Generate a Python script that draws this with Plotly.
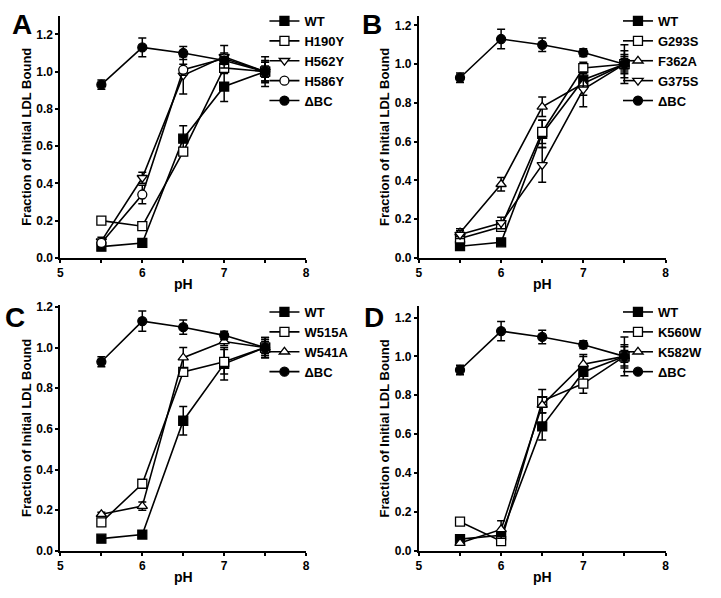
import plotly.graph_objects as go

ph = [5.5, 6.0, 6.5, 7.0, 7.5]

wt = [0.06, 0.08, 0.64, 0.92, 1.00]
wt_err = [0.01, 0.01, 0.07, 0.08, 0.05]
dbc = [0.93, 1.13, 1.10, 1.06, 1.00]
dbc_err = [0.025, 0.05, 0.035, 0.02, 0.03]

# Panel A
h190y = [0.20, 0.17, 0.57, 1.02, 1.00]
h190y_err = [0.01, 0.01, 0.02, 0.03, 0.06]
h562y = [0.09, 0.43, 0.98, 1.08, 1.00]
h562y_err = [0.02, 0.03, 0.10, 0.06, 0.08]
h586y = [0.08, 0.34, 1.01, 1.07, 1.00]
h586y_err = [0.01, 0.05, 0.03, 0.03, 0.05]

# Panel B
g293s = [0.10, 0.16, 0.65, 0.98, 1.00]
g293s_err = [0.02, 0.02, 0.06, 0.03, 0.04]
f362a = [0.13, 0.38, 0.78, 0.90, 1.00]
f362a_err = [0.02, 0.035, 0.05, 0.03, 0.07]
g375s = [0.12, 0.18, 0.48, 0.87, 1.00]
g375s_err = [0.02, 0.03, 0.09, 0.09, 0.10]

# Panel C
w515a = [0.14, 0.33, 0.88, 0.93, 1.00]
w515a_err = [0.01, 0.02, 0.02, 0.06, 0.04]
w541a = [0.18, 0.22, 0.95, 1.03, 1.00]
w541a_err = [0.01, 0.02, 0.05, 0.02, 0.05]

# Panel D
k560w = [0.15, 0.05, 0.77, 0.86, 1.00]
k560w_err = [0.01, 0.01, 0.06, 0.05, 0.10]
k582w = [0.04, 0.11, 0.75, 0.96, 1.00]
k582w_err = [0.01, 0.045, 0.04, 0.05, 0.06]

panel_letters = ["A", "B", "C", "D"]
y_ranges = [[0, 1.3], [0, 1.25], [0, 1.21], [0, 1.26]]
x_ticks = [5, 6, 7, 8]
y_ticks = [0.0, 0.2, 0.4, 0.6, 0.8, 1.0, 1.2]

FONT = "Liberation Sans, Arial, Helvetica, sans-serif"

panels = [
    [("WT", wt, wt_err, "square", "black"),
     ("H190Y", h190y, h190y_err, "square", "white"),
     ("H562Y", h562y, h562y_err, "triangle-down", "white"),
     ("H586Y", h586y, h586y_err, "circle", "white"),
     ("ΔBC", dbc, dbc_err, "circle", "black")],
    [("WT", wt, wt_err, "square", "black"),
     ("G293S", g293s, g293s_err, "square", "white"),
     ("F362A", f362a, f362a_err, "triangle-up", "white"),
     ("G375S", g375s, g375s_err, "triangle-down", "white"),
     ("ΔBC", dbc, dbc_err, "circle", "black")],
    [("WT", wt, wt_err, "square", "black"),
     ("W515A", w515a, w515a_err, "square", "white"),
     ("W541A", w541a, w541a_err, "triangle-up", "white"),
     ("ΔBC", dbc, dbc_err, "circle", "black")],
    [("WT", wt, wt_err, "square", "black"),
     ("K560W", k560w, k560w_err, "square", "white"),
     ("K582W", k582w, k582w_err, "triangle-up", "white"),
     ("ΔBC", dbc, dbc_err, "circle", "black")],
]

W, H = 721, 598
x_doms = [[58 / W, 306 / W], [420 / W, 669 / W], [58 / W, 306 / W], [420 / W, 669 / W]]
y_doms = [[1 - 258 / H, 1 - 11 / H], [1 - 258 / H, 1 - 11 / H],
          [1 - 557 / H, 1 - 306 / H], [1 - 557 / H, 1 - 307 / H]]
legend_pos = [(264 / W, 1 - 1 / H), (621 / W, 1 - 1 / H),
              (264 / W, 1 - 298 / H), (621 / W, 1 - 298 / H)]
letter_pos = [(7 / W, 1 - 20 / H), (361 / W, 1 - 20 / H),
              (0 / W, 1 - 319 / H), (363 / W, 1 - 319 / H)]

fig = go.Figure()
layout = dict(
    width=W, height=H, margin=dict(l=0, r=0, t=0, b=0),
    plot_bgcolor="white", paper_bgcolor="white",
    font=dict(family=FONT, color="black"),
    annotations=[],
)

for i, series in enumerate(panels):
    n = i + 1
    xa = "x" if n == 1 else f"x{n}"
    ya = "y" if n == 1 else f"y{n}"
    lg = "legend" if n == 1 else f"legend{n}"
    for name, vals, errs, sym, fill in series:
        fig.add_trace(go.Scatter(
            x=ph, y=vals, name=name, mode="lines+markers",
            xaxis=xa, yaxis=ya, legend=lg,
            line=dict(color="black", width=1.6),
            marker=dict(symbol=sym, size=9, color=fill,
                        line=dict(color="black", width=1.3)),
            error_y=dict(type="data", array=errs, visible=True,
                         color="black", thickness=1.5, width=4),
        ))
    axis_common = dict(
        showline=True, linecolor="black", linewidth=2, showgrid=False, zeroline=False,
        ticks="outside", ticklen=3, tickwidth=2, tickcolor="black",
        tickfont=dict(family=FONT, size=12, color="black", weight="bold"),
        mirror=False,
    )
    layout["xaxis" if n == 1 else f"xaxis{n}"] = dict(
        axis_common, domain=x_doms[i], range=[5, 8], tickvals=x_ticks,
        anchor=ya,
        minor=dict(tickvals=[5.5, 6.5, 7.5], ticklen=3, tickwidth=2, tickcolor="black", ticks="outside"),
        title=dict(text="pH", font=dict(family=FONT, size=14, weight="bold"), standoff=0),
    )
    layout["yaxis" if n == 1 else f"yaxis{n}"] = dict(
        axis_common, domain=y_doms[i], range=y_ranges[i], tickvals=y_ticks,
        tickformat=".1f", anchor=xa,
        title=dict(text="Fraction of Initial LDL Bound",
                   font=dict(family=FONT, size=13, weight="bold"), standoff=2),
    )
    layout[lg] = dict(
        x=legend_pos[i][0], y=legend_pos[i][1], xanchor="left", yanchor="top",
        bgcolor="rgba(0,0,0,0)", itemwidth=30, tracegroupgap=0,
        font=dict(family=FONT, size=13, color="black", weight="bold"),
    )
    layout["annotations"].append(dict(
        text=panel_letters[i], xref="paper", yref="paper",
        x=letter_pos[i][0], y=letter_pos[i][1], xanchor="left", yanchor="middle",
        showarrow=False, font=dict(family=FONT, size=28, color="black", weight="bold"),
    ))

fig.update_layout(**layout)
fig.write_html("out.html", config={"displayModeBar": False},
               post_script="document.body.style.margin='0';")
